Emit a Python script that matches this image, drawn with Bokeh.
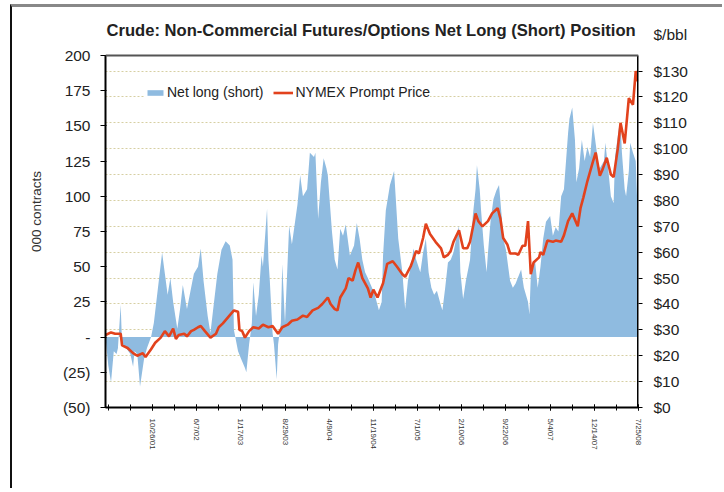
import pandas as pd
from bokeh.plotting import figure
from bokeh.models import Range1d, LinearAxis, FixedTicker, Grid, Label, Legend, LegendItem, Span
from bokeh.embed import file_html
from bokeh.resources import INLINE

# ---------------- data ----------------
start_date = pd.Timestamp("2001-03-02")   # week 0

net_weeks = [0, 2, 4, 6, 8, 9, 11, 12, 15, 18, 20, 21, 23, 25, 28, 30, 33, 35, 38, 41,
             43, 45, 47, 49, 52, 54, 56, 59, 62, 64, 67, 69, 71, 74, 76, 78, 81, 84, 87, 90,
             92, 93, 96, 98, 101, 102, 104, 106, 107, 109, 111, 113, 114, 117, 118, 119, 121, 122, 124, 125,
             127, 128, 130, 133, 135, 137, 139, 141, 143, 146, 148, 151, 152, 154, 156, 158, 160, 161, 164, 166,
             168, 170, 172, 174, 177, 180, 182, 184, 186, 188, 190, 193, 195, 198, 200, 201, 203, 206, 209, 212,
             215, 217, 219, 222, 223, 225, 228, 230, 232, 234, 236, 238, 240, 243, 244, 246, 248, 250, 252, 254,
             256, 257, 259, 261, 264, 265, 266, 268, 269, 271, 272, 274, 276, 277, 279, 281, 283, 285, 287, 288,
             290, 293, 295, 297, 299, 301, 303, 306, 307, 308, 311, 313, 315, 317, 319, 322, 324, 326, 328, 330,
             332, 335, 336, 338, 340, 341, 343, 344, 345, 347, 349, 351, 353, 356, 357, 358, 361, 362, 364, 366,
             368, 369, 372, 373, 374, 376, 377, 379, 380, 382, 384, 385]
net_long = [0, -20, -32, -10, -12, -8, 23, -5, -8, -12, -21, -10, -12, -35, -15, -8, 0, 10, 35, 60,
            45, 30, 42, 25, 6, 20, 37, 20, 35, 45, 50, 63, 40, 15, 3, 20, 45, 62, 68, 65,
            55, 5, -10, -15, -22, -25, -5, 10, 39, 15, 30, 58, 50, 91, 55, 40, 3, -5, -30, -5,
            10, 52, 10, 79, 66, 80, 94, 115, 100, 105, 131, 128, 131, 84, 110, 127, 120, 115, 75, 55,
            48, 77, 72, 80, 58, 65, 81, 70, 55, 46, 42, 35, 30, 19, 25, 58, 90, 108, 118, 70,
            46, 20, 40, 55, 63, 55, 46, 60, 70, 46, 35, 30, 33, 22, 19, 35, 53, 55, 60, 70,
            79, 46, 27, 40, 55, 70, 86, 105, 122, 105, 90, 65, 46, 60, 84, 98, 104, 108, 85, 70,
            62, 40, 35, 38, 43, 48, 35, 25, 16, 43, 55, 35, 50, 70, 82, 86, 72, 78, 75, 100,
            105, 145, 155, 163, 140, 110, 120, 131, 140, 125, 135, 128, 152, 130, 122, 120, 125, 138, 120, 100,
            95, 128, 150, 152, 131, 105, 100, 118, 138, 131, 125, 98]

price_weeks = [0, 4, 7, 11, 12, 16, 20, 23, 27, 29, 33, 36, 40, 43, 46, 49, 51, 53, 57, 59,
               62, 64, 67, 69, 72, 76, 80, 82, 85, 89, 93, 96, 97, 99, 101, 104, 107, 111, 114, 118,
               121, 125, 128, 132, 135, 139, 143, 146, 150, 154, 157, 161, 163, 166, 168, 170, 174, 176, 179, 181,
               183, 186, 190, 192, 194, 197, 201, 204, 208, 211, 215, 217, 221, 225, 227, 230, 232, 235, 239, 243,
               245, 248, 250, 252, 256, 259, 262, 264, 268, 270, 273, 277, 280, 284, 286, 288, 291, 293, 297, 299,
               302, 304, 306, 308, 310, 314, 315, 317, 320, 324, 326, 330, 332, 335, 338, 342, 344, 346, 349, 353,
               355, 358, 360, 363, 366, 368, 371, 373, 376, 379, 382, 384, 385]
price = [28, 29, 28.5, 28.5, 24, 23, 21, 20, 21, 19.5, 22.5, 25, 27, 29.5, 27.5, 30.5, 26.5, 28, 28.5, 27.5,
         29.5, 30, 31, 31.5, 29.5, 27, 28.5, 31, 32.5, 35, 37.5, 37, 30, 29.5, 27, 29.5, 31, 30.5, 32, 31,
         31.5, 28.5, 31, 32, 33.5, 34, 35.5, 35, 37.5, 38.5, 40, 42.5, 40, 38, 37.5, 42.5, 46, 50, 49, 53,
         56, 50, 46, 42.5, 45.5, 42.5, 48, 55.5, 56.5, 54.5, 51.5, 50.5, 54.5, 60.5, 59.5, 65.5, 71, 67, 64, 61.5,
         58, 59, 60.5, 64, 68.5, 61.5, 61.5, 64, 75, 72, 70, 72, 75, 77, 73, 65.5, 63, 59.5, 59.5, 59,
         62.5, 62.5, 72, 51.5, 56, 58, 60, 59, 64.5, 64, 64.5, 64, 66.5, 72, 75, 70, 77, 81, 87.5, 95,
         98.5, 89.5, 92, 96.5, 90, 89, 100, 110, 102, 119.5, 117, 130, 126]

left_ticks = [-50, -25, 0, 25, 50, 75, 100, 125, 150, 175, 200]
left_labels = ["(50)", "(25)", "-", "25", "50", "75", "100", "125", "150", "175", "200"]
right_ticks = [0, 10, 20, 30, 40, 50, 60, 70, 80, 90, 100, 110, 120, 130]
right_labels = ["$" + str(v) for v in right_ticks]
unit_text = "$/bbl"
label_weeks = [34 + 32 * k for k in range(12)]
minor_weeks = [2 + 16 * k for k in range(25)]

LEFT_MIN, LEFT_MAX = -50, 200      # visible box of the left axis
RIGHT_MAX = 136                    # right-axis value at the top of the box
UNIT_POS = 144.3                   # where the "$/bbl" caption sits on the right scale
HEAD = 40 / 352                    # extra room above the box (for title texts), as a share of box height
X_END = 386


def week_label(w):
    d = start_date + pd.Timedelta(weeks=w)
    return f"{d.month}/{d.day}/{d:%y}"


FONT = "Liberation Sans"

p = figure(width=712, height=484, x_range=Range1d(0, X_END),
           y_range=Range1d(LEFT_MIN, LEFT_MAX + (LEFT_MAX - LEFT_MIN) * HEAD),
           output_backend="svg", toolbar_location=None,
           min_border_left=93, min_border_right=86, min_border_top=8, min_border_bottom=84,
           background_fill_color="white", border_fill_color="white")
p.title.visible = False
p.extra_y_ranges = {"price": Range1d(0, RIGHT_MAX * (1 + HEAD))}
p.styles = {"margin-left": "10px", "margin-top": "4px",
            "border-left": "2px solid #111", "border-top": "3px solid #888"}

p.xgrid.visible = False
p.ygrid.visible = False
grid = Grid(dimension=1, ticker=FixedTicker(ticks=right_ticks[1:]), y_range_name="price",
            grid_line_color="#d6cfa2", grid_line_dash="2 2", grid_line_width=1)
p.add_layout(grid)

area = p.varea(x=net_weeks, y1=0, y2=net_long, fill_color="#8fbbe0", fill_alpha=1.0)
line = p.line(price_weeks, price, y_range_name="price", line_color="#e2421d", line_width=2.6)

p.outline_line_color = None
top_edge = Span(location=LEFT_MAX, dimension="width", line_color="#555555", line_width=2)
p.add_layout(top_edge)
# right axis line, limited to the box
p.segment(x0=[X_END], y0=[0], x1=[X_END], y1=[RIGHT_MAX], y_range_name="price",
          line_color="black", line_width=3)

# left axis
ya = p.yaxis[0]
ya.bounds = (LEFT_MIN, LEFT_MAX)
ya.ticker = FixedTicker(ticks=left_ticks)
ya.major_label_overrides = {t: l for t, l in zip(left_ticks, left_labels)}
ya.axis_label = "000 contracts"
ya.axis_label_text_font = FONT
ya.axis_label_text_font_style = "normal"
ya.axis_label_text_font_size = "13.5px"
ya.axis_label_text_color = "#333333"
ya.axis_label_standoff = 16
ya.axis_line_color = "black"
ya.axis_line_width = 2
ya.major_tick_out = 5
ya.major_tick_in = 1
ya.major_tick_line_color = "black"
ya.minor_tick_line_color = None
ya.major_label_standoff = 10
ya.major_label_text_font = FONT
ya.major_label_text_font_size = "15.5px"
ya.major_label_text_color = "#222222"

# right axis: tick marks drawn as "minor" ticks, labels on the "major" positions
ra = LinearAxis(y_range_name="price",
                ticker=FixedTicker(ticks=right_ticks + [UNIT_POS], minor_ticks=right_ticks))
overrides = {t: l for t, l in zip(right_ticks, right_labels)}
overrides[UNIT_POS] = unit_text
ra.major_label_overrides = overrides
ra.axis_line_color = None
ra.major_tick_out = 0
ra.major_tick_in = 0
ra.minor_tick_out = 4
ra.minor_tick_in = 0
ra.minor_tick_line_color = "black"
ra.major_label_standoff = 11
ra.major_label_text_font = FONT
ra.major_label_text_font_size = "15.5px"
ra.major_label_text_color = "#222222"
p.add_layout(ra, "right")

# bottom axis
xa = p.xaxis[0]
xa.ticker = FixedTicker(ticks=label_weeks, minor_ticks=minor_weeks)
xa.major_label_overrides = {w: week_label(w) for w in label_weeks}
xa.major_label_orientation = "vertical"
xa.major_label_text_font = FONT
xa.major_label_text_font_size = "8px"
xa.major_label_text_color = "#333333"
xa.major_label_standoff = 8
xa.axis_line_color = "black"
xa.axis_line_width = 2
xa.major_tick_in = 3
xa.major_tick_out = 3
xa.minor_tick_in = 3
xa.minor_tick_out = 3
xa.major_tick_line_color = "black"
xa.minor_tick_line_color = "black"

# title (placed in screen pixels from the lower-left corner of the plot area)
title = Label(x=1, y=377, x_units="screen", y_units="screen",
              text="Crude: Non-Commercial Futures/Options Net Long (Short) Position",
              text_font=FONT, text_font_size="16.6px", text_font_style="bold",
              text_color="#222222", text_baseline="middle")
p.add_layout(title)

legend = Legend(items=[LegendItem(label="Net long (short)", renderers=[area]),
                       LegendItem(label="NYMEX Prompt Price", renderers=[line])],
                location=(40, 307), orientation="horizontal",
                glyph_width=20, glyph_height=7, label_height=14, label_standoff=2,
                spacing=10, padding=0, margin=0,
                label_text_font=FONT, label_text_font_size="14px", label_text_color="#222222",
                border_line_color=None, background_fill_color="white", background_fill_alpha=1.0)
p.add_layout(legend)

open("out.html", "w").write(file_html(p, INLINE))
